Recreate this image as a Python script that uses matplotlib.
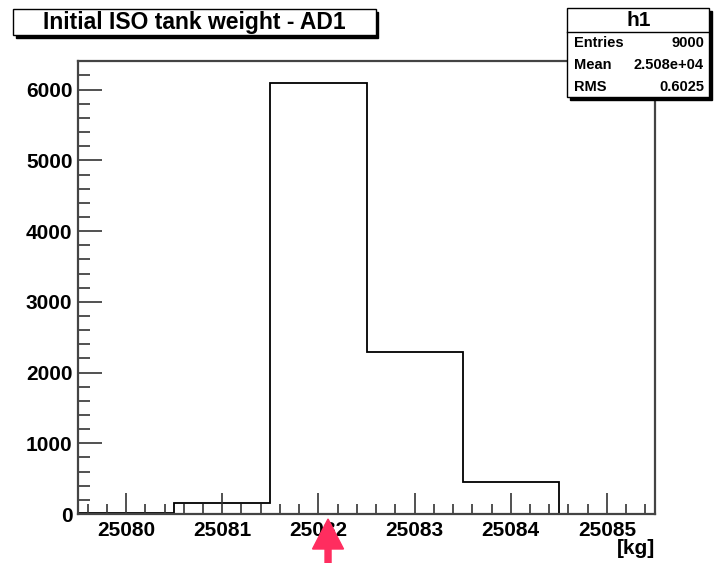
import numpy as np
import matplotlib
matplotlib.use("Agg")
import matplotlib.pyplot as plt
from matplotlib.patches import Rectangle, FancyArrow
from matplotlib.ticker import MultipleLocator

plt.rcParams["font.family"] = ["Liberation Sans", "DejaVu Sans"]
plt.rcParams["font.weight"] = "bold"

# bin centres [kg] and counts of the h1 histogram
bin_centres = [25080, 25081, 25082, 25083, 25084, 25085]
counts = [10, 150, 6100, 2290, 450, 0]
x_ticks = [25080, 25081, 25082, 25083, 25084, 25085]
y_ticks = [0, 1000, 2000, 3000, 4000, 5000, 6000]
title = "Initial ISO tank weight - AD1"
marker_x = 25082.1


def main():
    centres = np.array(bin_centres, dtype=float)
    n = np.array(counts, dtype=float)
    edges = np.append(centres - 0.5, centres[-1] + 0.5)

    entries = int(n.sum())
    mean = (n * centres).sum() / n.sum()
    rms = np.sqrt((n * (centres - mean) ** 2).sum() / n.sum())

    fig = plt.figure(figsize=(7.16, 5.63), dpi=100)
    W, H = 716.0, 563.0
    ax = fig.add_axes([78 / W, 1 - 514 / H, 577 / W, 453 / H])

    ax.stairs(n, edges, color="black", linewidth=1.3)
    ax.set_xlim(edges[0], edges[-1])
    ax.set_ylim(0, 1.05 * n.max())

    ax.set_xticks(x_ticks)
    ax.set_xticklabels([str(t) for t in x_ticks])
    ax.set_yticks(y_ticks)
    ax.xaxis.set_minor_locator(MultipleLocator(0.2))
    ax.yaxis.set_minor_locator(MultipleLocator(200))
    ax.tick_params(which="both", direction="in", color="#333333", width=1.2)
    ax.tick_params(which="major", length=15, labelsize=15, pad=5)
    ax.tick_params(which="minor", length=7.5)
    ax.tick_params(axis="y", which="major", length=17, pad=4)
    ax.tick_params(axis="y", which="minor", length=8.5)
    for lab in ax.get_xticklabels() + ax.get_yticklabels():
        lab.set_fontweight("bold")
    for s in ax.spines.values():
        s.set_color("#444444")
        s.set_linewidth(1.6)

    fig.text(655 / W, 1 - 549 / H, "[kg]", ha="right", va="center",
             fontsize=15, fontweight="bold")

    # boxes with drop shadow, ROOT style
    def box(x0, y0, x1, y1):
        fig.patches.append(Rectangle((x0 / W + 2.5 / W, 1 - y1 / H - 2.5 / H),
                                     (x1 - x0) / W, (y1 - y0) / H,
                                     transform=fig.transFigure, facecolor="black",
                                     edgecolor="black", zorder=5))
        fig.patches.append(Rectangle((x0 / W, 1 - y1 / H), (x1 - x0) / W, (y1 - y0) / H,
                                     transform=fig.transFigure, facecolor="white",
                                     edgecolor="black", linewidth=1.0, zorder=6))

    box(13, 9, 376, 35)
    fig.text(194 / W, 1 - 22 / H, title, ha="center", va="center",
             fontsize=16.5, fontweight="bold", zorder=7)

    # statistics box
    box(567, 8, 709, 97)
    fig.add_artist(plt.Line2D([567 / W, 709 / W], [1 - 32 / H, 1 - 32 / H],
                              color="black", linewidth=1.0, zorder=7))
    fig.text(639 / W, 1 - 20 / H, "h1", ha="center", va="center",
             fontsize=15, fontweight="bold", zorder=7)
    rows = [("Entries", f"{entries}"),
            ("Mean", f"{mean:.3e}"),
            ("RMS", f"{rms:.4f}")]
    for i, (k, v) in enumerate(rows):
        y = 1 - (43 + 22 * i) / H
        fig.text(574 / W, y, k, ha="left", va="center", fontsize=10.5,
                 fontweight="bold", zorder=7)
        fig.text(704 / W, y, v, ha="right", va="center", fontsize=10.5,
                 fontweight="bold", zorder=7)

    # marker arrow below the axis
    x_px = ax.transData.transform((marker_x, 0))[0]
    fig.add_artist(FancyArrow(x_px / W, 1 - 563 / H, 0, 44 / H, width=6 / W,
                              head_width=31 / W, head_length=30 / H,
                              length_includes_head=True, color="#ff2d5f",
                              transform=fig.transFigure, zorder=8))

    fig.savefig("out.png", dpi=100)


if __name__ == "__main__":
    main()
